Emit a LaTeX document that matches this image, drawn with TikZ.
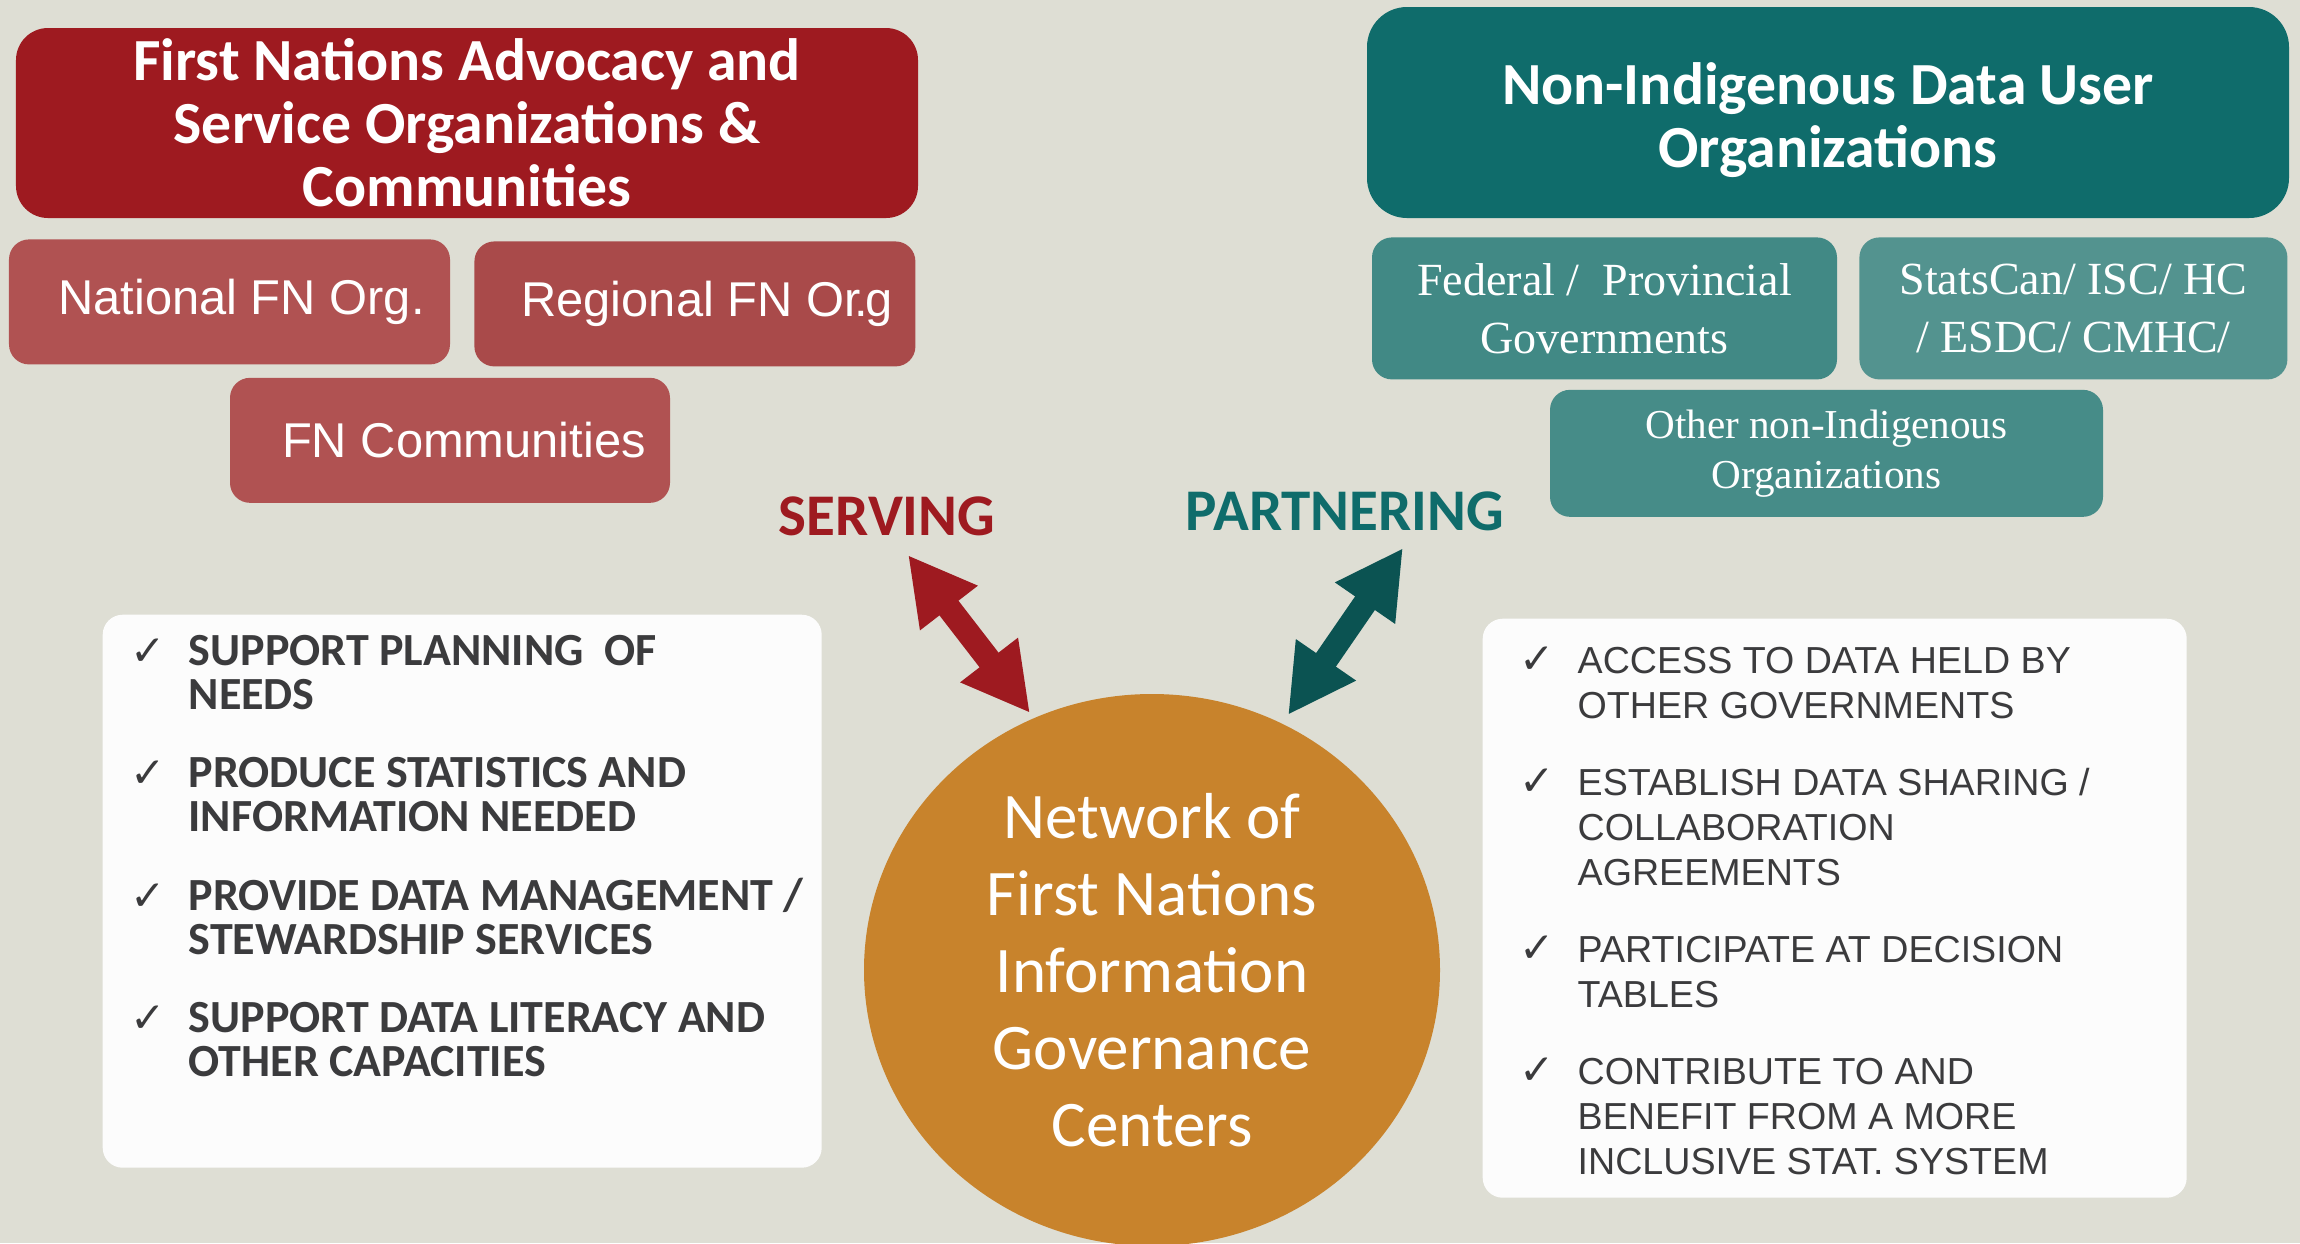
\documentclass[tikz,border=0pt]{standalone}
\usepackage{fontspec}
\setmainfont{Carlito}
\newfontfamily\arialfont{Liberation Sans}
\newfontfamily\timesfont{Liberation Serif}
\newfontfamily\symfont{DejaVu Sans}
\usetikzlibrary{positioning,shapes.geometric,arrows.meta}
\definecolor{bgcol}{RGB}{222,222,212}
\definecolor{fnred}{RGB}{158,26,32}
\definecolor{natred}{RGB}{176,82,82}
\definecolor{regred}{RGB}{169,74,74}
\definecolor{nidteal}{RGB}{15,108,107}
\definecolor{arrteal}{RGB}{11,83,82}
\definecolor{fedteal}{RGB}{65,137,133}
\definecolor{scteal}{RGB}{83,147,143}
\definecolor{othteal}{RGB}{70,140,136}
\definecolor{ochre}{RGB}{200,131,44}
\definecolor{listgray}{RGB}{59,59,61}
\newcommand{\chk}{\makebox[0.58cm][l]{\symfont\fontsize{12pt}{12pt}\selectfont ✓}}

\begin{document}
\begin{tikzpicture}[
    box/.style={rounded corners=0.2cm, inner sep=0pt, align=center, text=white},
    fnhd/.style={box, fill=fnred, rounded corners=0.32cm, minimum width=9.02cm, minimum height=1.90cm,
        font=\bfseries\fontsize{17pt}{17.9pt}\selectfont},
    nidhd/.style={box, fill=nidteal, rounded corners=0.4cm, minimum width=9.22cm, minimum height=2.11cm,
        font=\bfseries\fontsize{17pt}{17.9pt}\selectfont},
    fnsub/.style={box, minimum width=4.41cm, minimum height=1.25cm, font=\arialfont\fontsize{13.9pt}{16pt}\selectfont},
    nidsub/.style={box, minimum height=1.42cm, font=\timesfont\fontsize{13.1pt}{16.5pt}\selectfont},
    listbox/.style={fill=white!99!black, rounded corners=0.2cm, inner sep=0pt},
    listtxt/.style={inner sep=0pt, text=listgray, anchor=north west},
    verb/.style={font=\bfseries\fontsize{16.8pt}{17pt}\selectfont},
    bigarr/.style={line width=0.24cm, {Triangle[length=0.67cm,width=0.68cm]}-{Triangle[length=0.67cm,width=0.68cm]}}
]
    \useasboundingbox (0,0) rectangle (23,-12.43);
    \fill [bgcol] (0,0) rectangle (23,-12.43);

    \node [fnhd] (fnhead) at (4.67,-1.23) {First Nations Advocacy and\\Service Organizations \&\\Communities};
    \node [fnsub, fill=natred, below right=0.20cm and -0.07cm of fnhead.south west, anchor=north west] (natorg)
        {\hspace{0.24cm}National FN Org.};
    \node [fnsub, fill=regred, right=0.23cm of natorg, yshift=-0.02cm] (regorg)
        {\hspace{0.24cm}Regional FN Or\kern-0.12em.\kern-0.06em g};
    \node [fnsub, fill=natred, minimum width=4.40cm, below right=0.12cm and 2.21cm of natorg.south west, anchor=north west] (fncomm)
        {\hspace{0.28cm}FN Communities};

    \node [nidhd] (nidhead) at (18.28,-1.125) {\rule{0pt}{0.57cm}Non-Indigenous Data User\\Organizations};
    \node [nidsub, fill=fedteal, minimum width=4.65cm, below right=0.18cm and 0.05cm of nidhead.south west, anchor=north west] (fedgov)
        {Federal /\ \ Provincial\\Governments};
    \node [nidsub, fill=scteal, minimum width=4.28cm, right=0.21cm of fedgov] (depts)
        {StatsCan/ ISC/ HC\\/ ESDC/ CMHC/};
    \node [nidsub, fill=othteal, minimum width=5.53cm, minimum height=1.27cm, below right=0.09cm and 1.78cm of fedgov.south west, anchor=north west,
        font=\timesfont\fontsize{11.7pt}{14.2pt}\selectfont] (othorg)
        {Other non-Indigenous\\Organizations};

    \node [verb, text=fnred] (serving) at (8.87,-5.16) {SERVING};
    \node [verb, text=nidteal] (partnering) at (13.45,-5.11) {PARTNERING};

    \node [listbox, minimum width=7.19cm, minimum height=5.53cm, anchor=north west] (servbox) at (1.02,-6.14) {};
    \node [listtxt, font=\bfseries\fontsize{13.1pt}{12.5pt}\selectfont] (servlist) at ([xshift=0.28cm, yshift=-0.20cm]servbox.north west) {%
        \begin{tabular}{@{}l@{}l@{}}
        \chk & SUPPORT PLANNING\ \ OF\\
             & NEEDS\\[0.34cm]
        \chk & PRODUCE STATISTICS AND\\
             & INFORMATION NEEDED\\[0.34cm]
        \chk & PROVIDE DATA MANAGEMENT /\\
             & STEWARDSHIP SERVICES\\[0.34cm]
        \chk & SUPPORT DATA LITERACY AND\\
             & OTHER CAPACITIES
        \end{tabular}};

    \node [listbox, minimum width=7.04cm, minimum height=5.79cm, anchor=north west] (partbox) at (14.82,-6.18) {};
    \node [listtxt, font=\arialfont\fontsize{10.7pt}{12.8pt}\selectfont] (partlist) at ([xshift=0.37cm, yshift=-0.235cm]partbox.north west) {%
        \begin{tabular}{@{}l@{}l@{}}
        \chk & ACCESS TO DATA HELD BY\\
             & OTHER GOVERNMENTS\\[0.32cm]
        \chk & ESTABLISH DATA SHARING /\\
             & COLLABORATION\\
             & AGREEMENTS\\[0.32cm]
        \chk & PARTICIPATE AT DECISION\\
             & TABLES\\[0.32cm]
        \chk & CONTRIBUTE TO AND\\
             & BENEFIT FROM A MORE\\
             & INCLUSIVE STAT. SYSTEM
        \end{tabular}};

    \node [ellipse, fill=ochre, minimum width=5.76cm, minimum height=5.52cm, inner sep=0pt, align=center, text=white,
        font=\fontsize{18.5pt}{21.9pt}\selectfont] (nfnigc) at (11.52,-9.70)
        {Network of\\First Nations\\Information\\Governance\\Centers};

    \coordinate (servtop) at (9.08,-5.55);
    \coordinate (servbot) at (10.30,-7.13);
    \coordinate (parttop) at (14.03,-5.48);
    \coordinate (partbot) at (12.88,-7.15);
    \draw [bigarr, draw=fnred, fill=fnred] (servtop) -- (servbot);
    \draw [bigarr, draw=arrteal, fill=arrteal] (parttop) -- (partbot);
\end{tikzpicture}
\end{document}
